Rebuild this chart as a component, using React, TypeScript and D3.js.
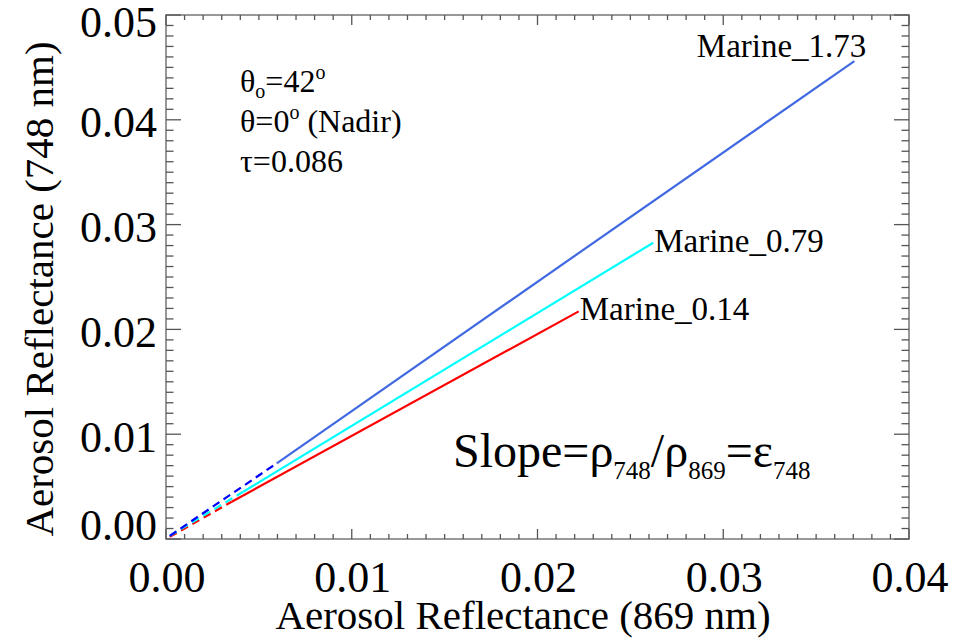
import React from "react";
import * as d3 from "d3";

const xTickValues = [0, 0.01, 0.02, 0.03, 0.04];
const xTickLabels = ["0.00", "0.01", "0.02", "0.03", "0.04"];
const yTickValues = [0, 0.01, 0.02, 0.03, 0.04, 0.05];
const yTickLabels = ["0.00", "0.01", "0.02", "0.03", "0.04", "0.05"];

const seriesNames = ["Marine_0.14", "Marine_0.79", "Marine_1.73"];
const marine014X = [0.0002, 0.00354, 0.02222];
const marine014Y = [0.0002, 0.00356, 0.02172];
const marine079X = [0.0002, 0.00416, 0.02623];
const marine079Y = [0.0003, 0.00451, 0.02827];
const marine173X = [0.0002, 0.00596, 0.03706];
const marine173Y = [0.0003, 0.00722, 0.0456];
const solidColors = ["#ff0000", "#00ffff", "#4169e1"];
const dashColors = ["#ff0000", "#00ffff", "#0000ff"];

const W = 961;
const H = 642;
const L = 166, R = 909, T = 15, B = 539;
const FONT = "Liberation Serif, DejaVu Serif, serif";
const ts = { fontFamily: FONT };

export default function App() {
  const x = d3.scaleLinear().domain([0, 0.04]).range([L, R]);
  const y = d3.scaleLinear().domain([0, 0.05]).range([B, T]);
  const line = d3.line<[number, number]>().x((d) => x(d[0])).y((d) => y(d[1]));

  const series = [
    { xs: marine014X, ys: marine014Y },
    { xs: marine079X, ys: marine079Y },
    { xs: marine173X, ys: marine173Y },
  ];

  const xMinor = d3.range(0, 41).map((i) => i * 0.001);
  const yMinor = d3.range(0, 51).map((i) => i * 0.001);
  const isMajor = (i: number) => i % 10 === 0;

  const yLabelShift = (i: number) => (i === 0 ? -14 : i === yTickValues.length - 1 ? 7 : 2);

  return (
    <div style={{ position: "absolute", left: 0, top: 0 }}>
      <svg width={W} height={H} style={{ display: "block", background: "#fff", fontFamily: FONT }}>
        {/* data lines */}
        {series.map((s, i) => {
          const pts: [number, number][] = s.xs.map((v, k) => [v, s.ys[k]]);
          return (
            <g key={i}>
              <path d={line(pts.slice(0, 2)) || ""} fill="none" stroke={dashColors[i]} strokeWidth={2.2} strokeDasharray="8,5" />
              <path d={line(pts.slice(1)) || ""} fill="none" stroke={solidColors[i]} strokeWidth={2.2} />
            </g>
          );
        })}
        {/* line labels */}
        {series.map((s, i) => {
          const ex = x(s.xs[2]);
          const ey = y(s.ys[2]);
          const isTop = i === 2;
          return (
            <text key={i} style={ts} x={isTop ? ex + 12 : ex + 1} y={isTop ? ey - 4 : ey + 9}
              textAnchor={isTop ? "end" : "start"} fontSize={33} fill="#000">
              {seriesNames[i]}
            </text>
          );
        })}
        {/* frame */}
        <rect x={L} y={T} width={R - L} height={B - T} fill="none" stroke="#777" strokeWidth={1.5} />
        {/* x ticks bottom & top */}
        {xMinor.map((v, i) => {
          const len = isMajor(i) ? 10 : 5;
          return (
            <g key={"xt" + i} stroke="#555" strokeWidth={1.3}>
              <line x1={x(v)} x2={x(v)} y1={B} y2={B - len} />
              <line x1={x(v)} x2={x(v)} y1={T} y2={T + len} />
            </g>
          );
        })}
        {/* y ticks left & right */}
        {yMinor.map((v, i) => {
          const len = isMajor(i) ? 15 : 7.5;
          return (
            <g key={"yt" + i} stroke="#555" strokeWidth={1.3}>
              <line x1={L} x2={L + len} y1={y(v)} y2={y(v)} />
              <line x1={R} x2={R - len} y1={y(v)} y2={y(v)} />
            </g>
          );
        })}
        {/* x tick labels */}
        {xTickValues.map((v, i) => (
          <text key={"xl" + i} style={ts} x={x(v) + 1} y={592} textAnchor="middle" fontSize={44} fill="#000">
            {xTickLabels[i]}
          </text>
        ))}
        {/* y tick labels */}
        {yTickValues.map((v, i) => (
          <text key={"yl" + i} style={ts} x={157} y={y(v) + yLabelShift(i)} dy="0.35em" textAnchor="end" fontSize={44} fill="#000">
            {yTickLabels[i]}
          </text>
        ))}
        {/* axis titles */}
        <text style={ts} x={523} y={629} textAnchor="middle" fontSize={41} fill="#000">
          Aerosol Reflectance (869 nm)
        </text>
        <text style={ts} transform="translate(53,289) rotate(-90)" textAnchor="middle" fontSize={41} fill="#000">
          Aerosol Reflectance (748 nm)
        </text>
        {/* annotation */}
        <g fontSize={32} fill="#000">
          <text style={ts} x={240} y={92}>
            θ<tspan fontSize={20} dy={6}>o</tspan><tspan dy={-6}>=42</tspan><tspan fontSize={20} dy={-13}>o</tspan>
          </text>
          <text style={ts} x={240} y={132}>
            θ=0<tspan fontSize={20} dy={-13}>o</tspan><tspan dy={13}> (Nadir)</tspan>
          </text>
          <text style={ts} x={240} y={172}>τ=0.086</text>
        </g>
        <text style={ts} x={453} y={467} fontSize={48} fill="#000">
          Slope=ρ<tspan fontSize={25} dy={12}>748</tspan><tspan dy={-12}>/ρ</tspan><tspan fontSize={25} dy={12}>869</tspan><tspan dy={-12}>=ε</tspan><tspan fontSize={25} dy={12}>748</tspan>
        </text>
      </svg>
    </div>
  );
}
